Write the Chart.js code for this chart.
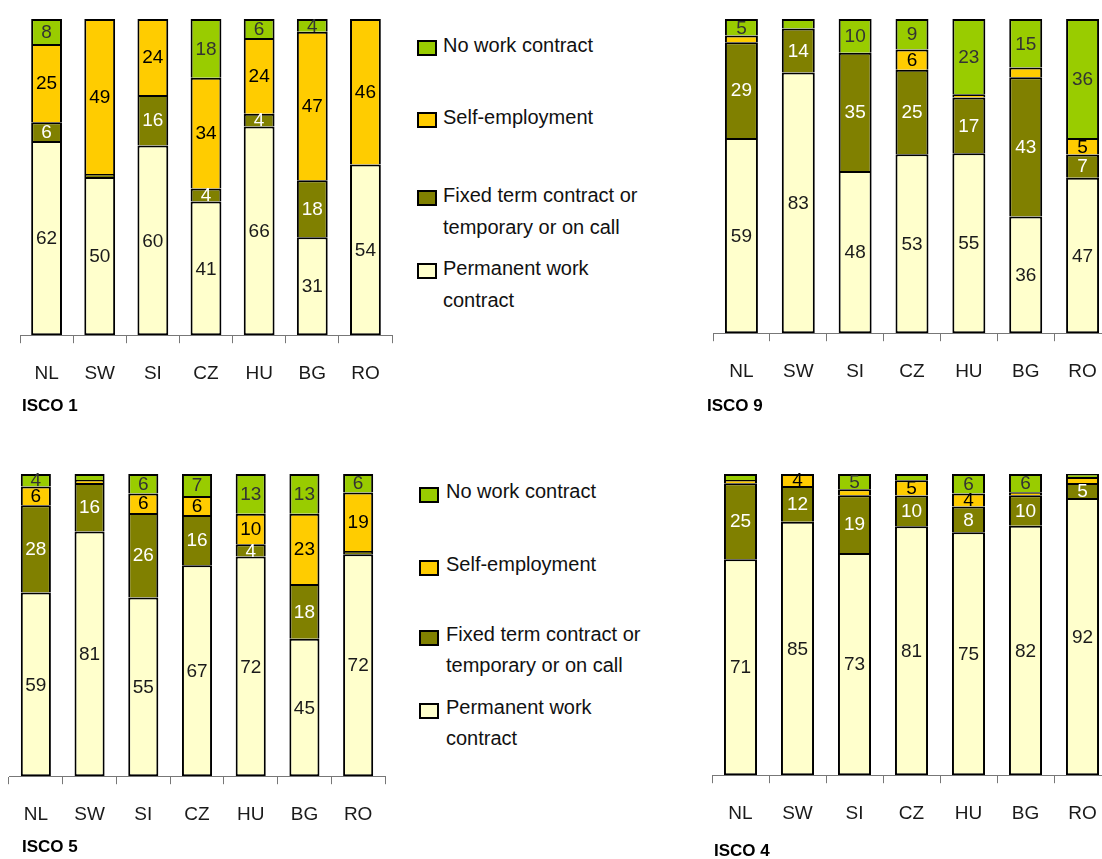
<!DOCTYPE html>
<html lang="en">
<head>
  <meta charset="UTF-8">
  <title>Work contract types by ISCO group</title>
  <script src="https://cdn.jsdelivr.net/npm/chart.js"></script>
  <style>
    html, body { margin: 0; padding: 0; background: #fff; }
    body { width: 1102px; height: 859px; position: relative; overflow: hidden; }
    canvas { position: absolute; }
    .title { position: absolute; font: bold 17px 'Liberation Sans', Arial, sans-serif; line-height: 17px; color: #000; }
    .legend { position: absolute; font: 20px 'Liberation Sans', Arial, sans-serif; color: #111; }
    .item { position: absolute; white-space: nowrap; }
    .box { position: absolute; width: 16px; height: 12px; border: 2px solid #000; }
  </style>
</head>
<body>
  <canvas id="isco1" width="400" height="420" style="left:0;top:0"></canvas>
  <canvas id="isco9" width="430" height="420" style="left:690px;top:0"></canvas>
  <canvas id="isco5" width="400" height="420" style="left:0;top:455px"></canvas>
  <canvas id="isco4" width="430" height="420" style="left:690px;top:455px"></canvas>

  <div class="title" style="left:22px;top:397px">ISCO 1</div>
  <div class="title" style="left:707px;top:397px">ISCO 9</div>
  <div class="title" style="left:22px;top:838px">ISCO 5</div>
  <div class="title" style="left:714px;top:842px">ISCO 4</div>

  <div id="legendTop" class="legend"></div>
  <div id="legendBottom" class="legend"></div>

  <script>
// categories and series
const countries = ['NL', 'SW', 'SI', 'CZ', 'HU', 'BG', 'RO'];
const seriesNames = ['Permanent work contract', 'Fixed term contract or temporary or on call', 'Self-employment', 'No work contract'];
const seriesColors = ['#FFFFCC', '#808000', '#FFCC00', '#99CC00'];
const labelColors = ['#1a1a1a', '#ffffff', '#000000', '#333333'];

// ISCO 1
const isco1Permanent = [62, 50, 60, 41, 66, 31, 54];
const isco1Fixed = [6, 1, 16, 4, 4, 18, 0];
const isco1Self = [25, 49, 24, 34, 24, 47, 46];
const isco1NoContract = [8, 0, 0, 18, 6, 4, 0];

// ISCO 9
const isco9Permanent = [59, 83, 48, 53, 55, 36, 47];
const isco9Fixed = [29, 14, 35, 25, 17, 43, 7];
const isco9Self = [2, 0, 0, 6, 1, 3, 5];
const isco9NoContract = [5, 3, 10, 9, 23, 15, 36];

// ISCO 5
const isco5Permanent = [59, 81, 55, 67, 72, 45, 72];
const isco5Fixed = [28, 16, 26, 16, 4, 18, 1];
const isco5Self = [6, 1, 6, 6, 10, 23, 19];
const isco5NoContract = [4, 2, 6, 7, 13, 13, 6];

// ISCO 4
const isco4Permanent = [71, 85, 73, 81, 75, 82, 92];
const isco4Fixed = [25, 12, 19, 10, 8, 10, 5];
const isco4Self = [1, 4, 2, 5, 4, 1, 2];
const isco4NoContract = [2, 0, 5, 2, 6, 6, 1];

const fontFamily = "'Liberation Sans', Arial, sans-serif";

// draws the value of each segment in its middle (small ones are left out)
const segmentLabels = {
  id: 'segmentLabels',
  afterDatasetsDraw(chart) {
    const ctx = chart.ctx;
    ctx.save();
    ctx.font = '19px ' + fontFamily;
    ctx.textAlign = 'center';
    ctx.textBaseline = 'middle';
    chart.data.datasets.forEach((ds, i) => {
      chart.getDatasetMeta(i).data.forEach((bar, j) => {
        const v = ds.raw[j];
        if (v < 4) return;
        const p = bar.getProps(['x', 'y', 'base'], true);
        ctx.fillStyle = labelColors[i];
        ctx.fillText(String(v), p.x, (p.y + p.base) / 2 + 1);
      });
    });
    ctx.restore();
  }
};

// 100% stacked: each column is shown as shares of its total
function makeChart(id, series, pad, barPct) {
  const totals = countries.map((c, j) => series.reduce((s, arr) => s + arr[j], 0));
  const datasets = series.map((arr, i) => ({
    label: seriesNames[i],
    raw: arr,
    data: arr.map((v, j) => v / totals[j] * 100),
    backgroundColor: seriesColors[i],
    borderColor: '#000',
    borderWidth: 2,
    borderSkipped: i === 0 ? false : 'start',
    barPercentage: barPct,
    categoryPercentage: 1
  }));
  new Chart(document.getElementById(id), {
    type: 'bar',
    data: { labels: countries, datasets: datasets },
    plugins: [segmentLabels],
    options: {
      responsive: false,
      animation: false,
      devicePixelRatio: 1,
      layout: { padding: pad },
      plugins: { legend: { display: false }, tooltip: { enabled: false } },
      scales: {
        x: {
          stacked: true,
          grid: { drawOnChartArea: false, drawTicks: true, tickLength: 8, color: '#777', lineWidth: 1 },
          border: { display: true, color: '#777', width: 1 },
          ticks: { color: '#1a1a1a', padding: 19, font: { family: fontFamily, size: 19 } }
        },
        y: { stacked: true, min: 0, max: 100, display: false }
      }
    }
  });
}

makeChart('isco1', [isco1Permanent, isco1Fixed, isco1Self, isco1NoContract], { left: 20, right: 8, top: 19, bottom: 16 }, 0.58);
makeChart('isco9', [isco9Permanent, isco9Fixed, isco9Self, isco9NoContract], { left: 23, right: 9, top: 19, bottom: 18 }, 0.58);
makeChart('isco5', [isco5Permanent, isco5Fixed, isco5Self, isco5NoContract], { left: 9, right: 15, top: 19, bottom: 30 }, 0.56);
makeChart('isco4', [isco4Permanent, isco4Fixed, isco4Self, isco4NoContract], { left: 22, right: 9, top: 19, bottom: 31 }, 0.58);

// legends, top series first
function makeLegend(id, boxLeft, textLeft, tops, lineH) {
  const el = document.getElementById(id);
  const lines = [['No work contract'], ['Self-employment'], ['Fixed term contract or', 'temporary or on call'], ['Permanent work', 'contract']];
  const colors = [seriesColors[3], seriesColors[2], seriesColors[1], seriesColors[0]];
  lines.forEach((txt, k) => {
    const box = document.createElement('div');
    box.className = 'box';
    box.style.left = boxLeft + 'px';
    box.style.top = (tops[k] + lineH / 2 - 5) + 'px';
    box.style.background = colors[k];
    el.appendChild(box);
    const t = document.createElement('div');
    t.className = 'item';
    t.style.left = textLeft + 'px';
    t.style.top = tops[k] + 'px';
    t.style.lineHeight = lineH + 'px';
    t.innerHTML = txt.join('<br>');
    el.appendChild(t);
  });
}
makeLegend('legendTop', 417, 443, [29, 101, 179, 252], 32);
makeLegend('legendBottom', 419, 446, [476, 549, 619, 692], 31);
  </script>
</body>
</html>
